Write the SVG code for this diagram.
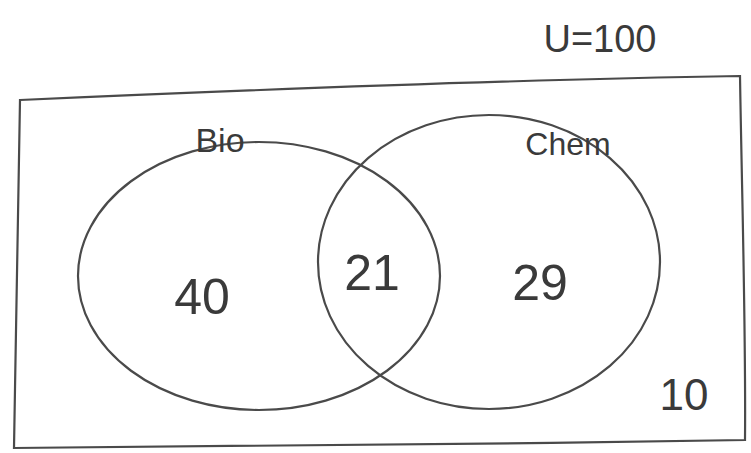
<svg xmlns="http://www.w3.org/2000/svg" width="751" height="453" viewBox="0 0 751 453">
<style>
.ln{fill:none;stroke:#4a4a4a;stroke-width:2.2;stroke-linecap:round}
.t{font-family:"Liberation Sans",Arial,sans-serif;fill:#3a3a3a;text-anchor:middle}
</style>
<rect width="751" height="453" fill="#ffffff"/>
<g id="universe">
<path class="ln" d="M20,100 C200,92 500,80 740,76 C742,200 746,330 745,440 C500,444 250,447 14,448 C16,330 18,210 20,100 Z"/>
<text class="t" x="600" y="52" font-size="38">U=100</text>
<text class="t" x="684" y="410" font-size="44">10</text>
</g>
<g id="bio">
<ellipse class="ln" cx="259" cy="276" rx="181" ry="134"/>
<text class="t" x="220" y="152" font-size="34">Bio</text>
<text class="t" x="202" y="314" font-size="50">40</text>
</g>
<g id="chem">
<ellipse class="ln" cx="489" cy="262" rx="171" ry="147"/>
<text class="t" x="568" y="155" font-size="32">Chem</text>
<text class="t" x="540" y="300" font-size="50">29</text>
</g>
<g id="intersection">
<text class="t" x="372" y="290" font-size="50">21</text>
</g>
<g id="connectors"></g>
</svg>
